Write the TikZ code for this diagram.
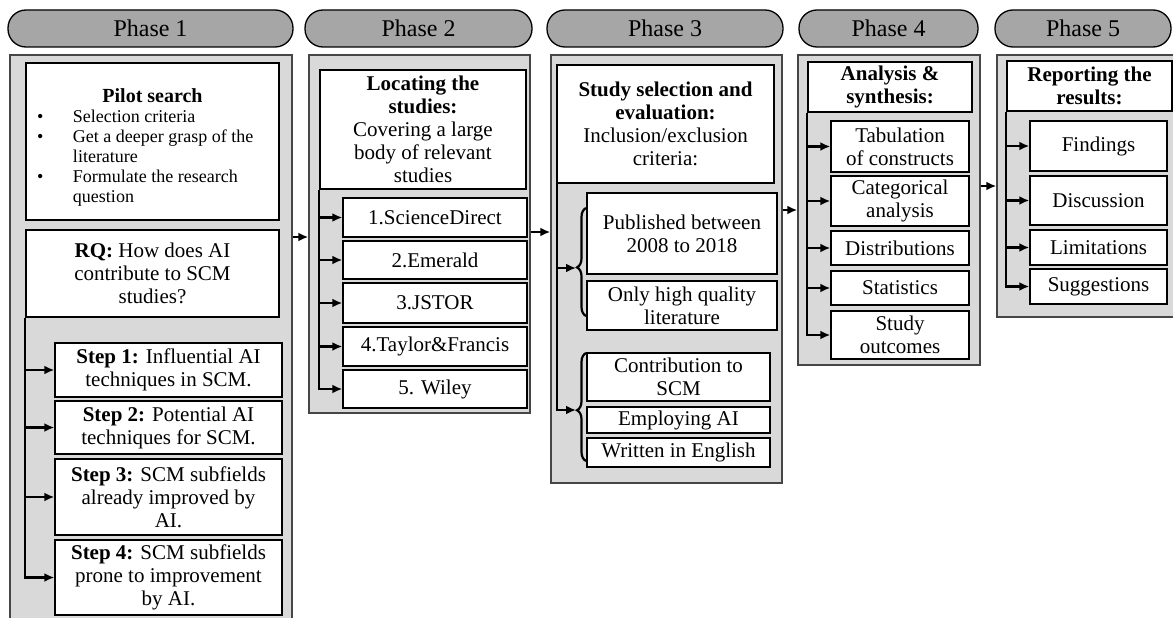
\documentclass[tikz,border=0pt]{standalone}
\usepackage{fontspec}
\setmainfont{Liberation Serif}
\usetikzlibrary{arrows.meta,decorations.pathreplacing}
\definecolor{pillgray}{RGB}{166,166,166}
\definecolor{panelgray}{RGB}{217,217,217}
\definecolor{edgegray}{RGB}{70,70,70}
\newcommand\rbox[6][]{\node[#1,minimum width={#4-#2},minimum height={#5-#3}] (#6) at ({(#2+#4)/2},{(#3+#5)/2})}
\newcommand\bul{\makebox[43pt][l]{\hspace{7pt}\textbullet}}
\newcommand\ind{\hspace*{43pt}}
\begin{document}
\begin{tikzpicture}[x=1pt,y=-1pt,
  pill/.style={draw=black,line width=1.3pt,fill=pillgray,rounded corners=18pt,inner sep=0pt,font=\fontsize{24}{26}\selectfont},
  panel/.style={draw=edgegray,line width=1.5pt,fill=panelgray,inner sep=0pt},
  box/.style={draw=black,line width=1.4pt,fill=white,inner sep=2pt,align=center,font=\fontsize{21}{23}\selectfont},
  conn/.style={line width=2.2pt,black},
  arr/.style={conn,-{Latex[length=10pt,width=9pt]}},
  brc/.style={conn,decorate,decoration={brace,amplitude=9pt}}]
\useasboundingbox (0,0) rectangle (1173,618);
\clip (0,0) rectangle (1173,618);
\fill[white] (0,0) rectangle (1173,618);

% headers
\rbox[pill]{8}{10}{293}{47}{h1}{Phase 1};
\rbox[pill]{305}{10}{532}{47}{h2}{Phase 2};
\rbox[pill]{547}{10}{783}{47}{h3}{Phase 3};
\rbox[pill]{799}{10}{978}{47}{h4}{Phase 4};
\rbox[pill]{995}{10}{1171}{47}{h5}{Phase 5};

% panels
\rbox[panel]{10}{55}{292}{640}{pn1}{};
\rbox[panel]{309}{55}{530}{413}{pn2}{};
\rbox[panel]{551}{55}{782}{483}{pn3}{};
\rbox[panel]{798}{55}{980}{365}{pn4}{};
\rbox[panel]{997}{55}{1185}{317}{pn5}{};

% Phase 1
\rbox[box,align=left,inner sep=4pt,font=\fontsize{18}{20}\selectfont]{26}{63}{279}{220}{pilot}{%
\makebox[245pt][c]{\rule{0pt}{25pt}\fontsize{20}{22}\selectfont\bfseries Pilot search}\\
\bul Selection criteria\\
\bul Get a deeper grasp of the\\
\ind literature\\
\bul Formulate the research\\
\ind question};
\rbox[box]{26}{230}{279}{317}{rq}{\textbf{RQ:} How does AI\\contribute to SCM\\studies?};
\rbox[box]{55}{343}{282}{397}{s1}{\textbf{Step 1:} Influential AI\\techniques in SCM.};
\rbox[box]{55}{401}{282}{454}{s2}{\textbf{Step 2:} Potential AI\\techniques for SCM.};
\rbox[box]{55}{459}{282}{535}{s3}{\textbf{Step 3:} SCM subfields\\already improved by\\AI.};
\rbox[box]{55}{540}{282}{615}{s4}{\textbf{Step 4:} SCM subfields\\prone to improvement\\by AI.};
\draw[arr] (rq.south west) |- (s4.west);
\foreach \n in {s1,s2,s3} \draw[arr] (rq.south west |- \n.west) -- (\n.west);

% Phase 2
\rbox[box]{320}{70}{526}{189}{loc}{\textbf{Locating the}\\\textbf{studies:}\\Covering a large\\body of relevant\\studies};
\rbox[box]{343}{198}{527}{237}{d1}{1.ScienceDirect};
\rbox[box]{343}{241}{527}{279}{d2}{2.Emerald};
\rbox[box]{343}{283}{527}{323}{d3}{3.JSTOR};
\rbox[box]{343}{327}{527}{366}{d4}{4.Taylor\&Francis};
\rbox[box]{343}{370}{527}{408}{d5}{5. Wiley};
\draw[arr] (loc.south west) |- (d5.west);
\foreach \n in {d1,d2,d3,d4} \draw[arr] (loc.south west |- \n.west) -- (\n.west);

% Phase 3
\rbox[box]{557}{65}{774}{183}{sel}{\textbf{Study selection and}\\\textbf{evaluation:}\\Inclusion/exclusion\\criteria:};
\rbox[box]{587}{193}{777}{274}{c1}{Published between\\2008 to 2018};
\rbox[box]{587}{281}{777}{330}{c2}{Only high quality\\literature};
\rbox[box]{587}{353}{770}{401}{c3}{Contribution to\\SCM};
\rbox[box]{587}{407}{770}{433}{c4}{Employing AI};
\rbox[box]{587}{438}{770}{467}{c5}{Written in English};
\draw[brc,decoration={aspect=0.45}] (586,316) -- (586,208);
\draw[brc,decoration={aspect=0.47}] (586,461) -- (586,353);
\coordinate (b1) at (576,268);
\coordinate (b2) at (576,410);
\draw[arr] ([xshift=1pt]sel.south west) |- (b2);
\draw[arr] ([xshift=1pt]sel.south west |- b1) -- (b1);

% Phase 4
\rbox[box]{808}{62}{972}{112}{ana}{\textbf{Analysis \&}\\\textbf{synthesis:}};
\rbox[box]{831}{121}{969}{172}{a1}{Tabulation\\of constructs};
\rbox[box]{831}{176}{969}{226}{a2}{Categorical\\analysis};
\rbox[box]{831}{231}{969}{265}{a3}{Distributions};
\rbox[box]{831}{271}{969}{305}{a4}{Statistics};
\rbox[box]{831}{311}{969}{359}{a5}{Study\\outcomes};
\draw[arr] (ana.south west) |- (a5.west);
\foreach \n in {a1,a2,a3,a4} \draw[arr] (ana.south west |- \n.west) -- (\n.west);

% Phase 5
\rbox[box]{1007}{61}{1172}{111}{rep}{\textbf{Reporting the}\\\textbf{results:}};
\rbox[box]{1030}{121}{1167}{171}{r1}{Findings};
\rbox[box]{1030}{176}{1167}{225}{r2}{Discussion};
\rbox[box]{1030}{230}{1167}{265}{r3}{Limitations};
\rbox[box]{1030}{269}{1167}{304}{r4}{Suggestions};
\draw[arr] (rep.south west) |- (r4.west);
\foreach \n in {r1,r2,r3} \draw[arr] (rep.south west |- \n.west) -- (\n.west);

% between phases
\coordinate (y12) at (0,237);
\coordinate (y23) at (0,232);
\coordinate (y34) at (0,210);
\coordinate (y45) at (0,186);
\draw[arr] (pn1.east |- y12) -- (pn2.west |- y12);
\draw[arr] (pn2.east |- y23) -- (pn3.west |- y23);
\draw[arr] (pn3.east |- y34) -- (pn4.west |- y34);
\draw[arr] (pn4.east |- y45) -- (pn5.west |- y45);
\end{tikzpicture}
\end{document}
